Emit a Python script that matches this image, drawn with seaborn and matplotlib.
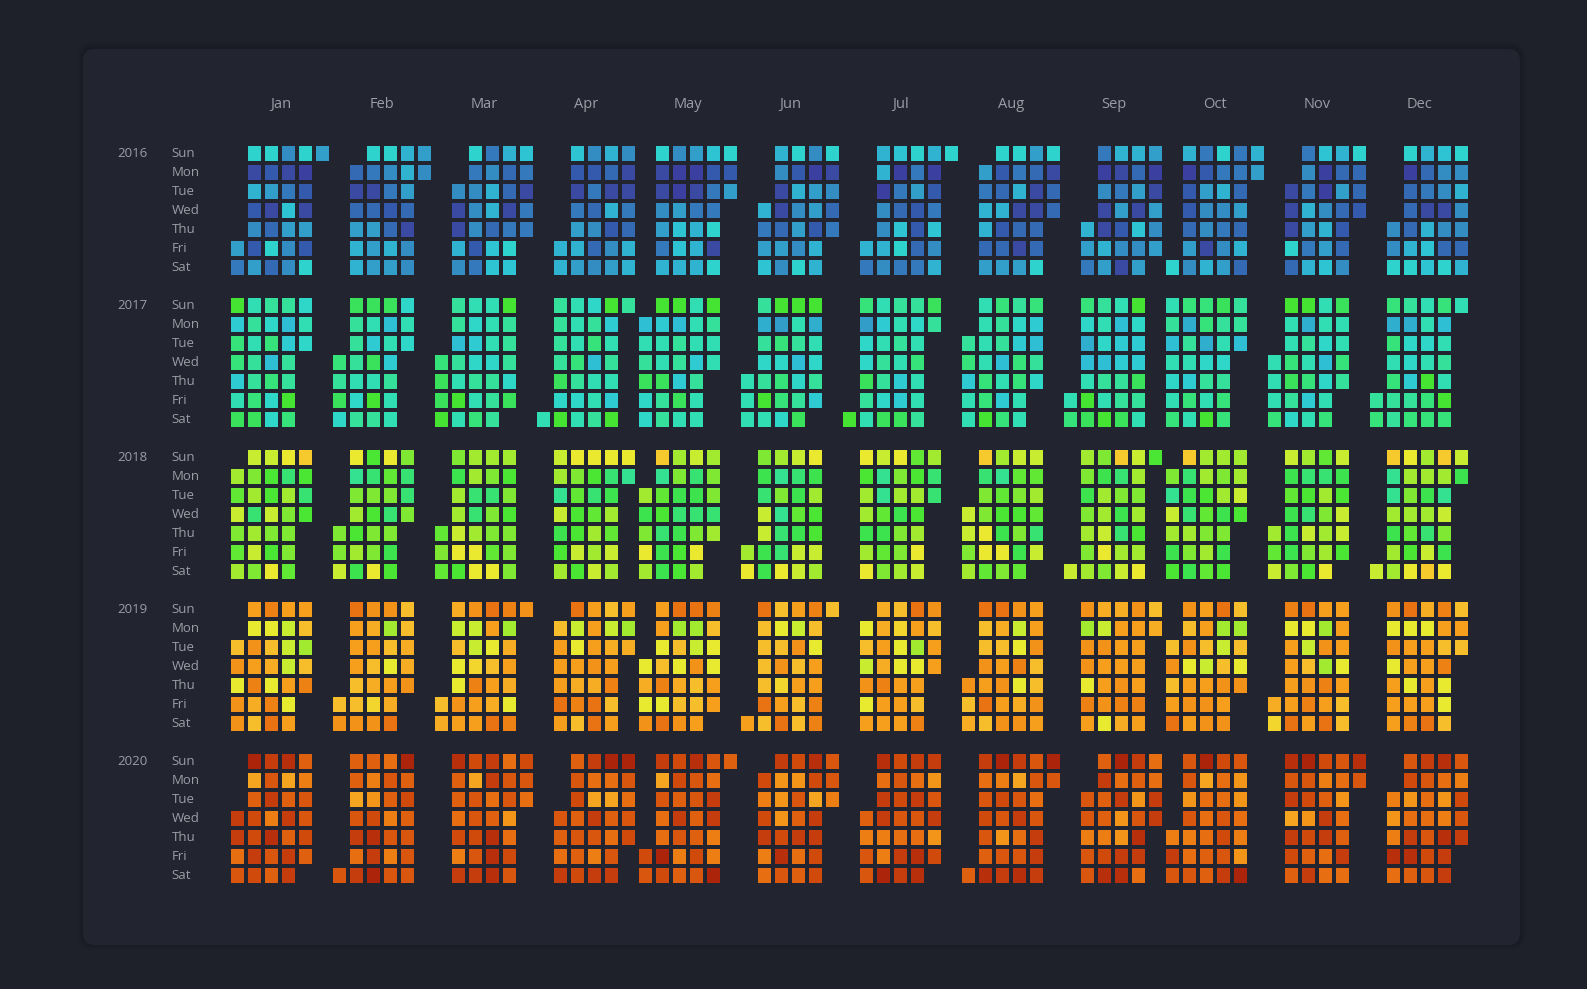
import numpy as np
import pandas as pd
import matplotlib
matplotlib.use("Agg")
import matplotlib.pyplot as plt
import seaborn as sns
from matplotlib.colors import LinearSegmentedColormap
from matplotlib.patches import FancyBboxPatch

plt.rcParams['font.family'] = ['Open Sans', 'DejaVu Sans']

years = [2016, 2017, 2018, 2019, 2020]
month_names = ['Jan', 'Feb', 'Mar', 'Apr', 'May', 'Jun', 'Jul', 'Aug', 'Sep', 'Oct', 'Nov', 'Dec']
day_names = ['Sun', 'Mon', 'Tue', 'Wed', 'Thu', 'Fri', 'Sat']

# daily level (0-9) inside each year's colour band, one string per month,
# spaces only split the week columns
levels_2016 = [
    "64 9172526 9261393 5148655 9021629 6",
    "313677 9413666 9542376 7763155 65",
    "51175 9455524 4577388 7331498 84144",
    "77 8214676 5243535 7317256 5114377",
    "9115647 5006887 6014777 8244919 926",
    "7468 7511365 9275659 5066277 91534",
    "74 7705575 8043894 9462234 7024857 9",
    "647736 9237236 9471316 6311339 9133",
    "764 4051176 7146251 7361856 601656",
    "9 7022365 4265517 9475456 4436373 76",
    "11193 4547647 8005768 7363235 9332",
    "559 9033379 7341788 8551539 9575537",
]
levels_2017 = [
    "9377358 5656678 6472744 6236697 454",
    "7684 8666546 8538596 8253655 454",
    "7889 6626595 5434657 5554666 966648",
    "5 6666849 5557645 4672556 9356539 6",
    "256844 9355866 9266385 5553655 9655",
    "555 6164695 9074774 9562468 915463",
    "9 7044865 5356648 6565338 6457556 86",
    "67355 5555779 7662537 6437755 73264",
    "57 7412598 6542659 5233668 9433865",
    "5625457 7165375 7714659 8654677 662",
    "5557 9557864 9165735 5542457 85576",
    "67 7175766 6144367 5545977 7256597 5",
]
levels_2018 = [
    "647546 7561675 7337538 8165554 9313",
    "557 8056362 3153558 8451523 5115",
    "454 5266783 6611688 6515548 6353555",
    "7607236 8543373 8314667 8126476 80",
    "62586 9043122 6521233 7121586 65516",
    "68 5217722 6050118 7124277 8263376",
    "8366268 7004245 8562556 4363687 611",
    "7756 9155884 6043285 7453524 746417",
    "7 6525656 5266785 9152167 7656368 3",
    "507623 9121652 6634564 6562523 6673",
    "647 7242225 6131753 4165668 723773",
    "7 9006266 8656438 6626179 9607528 72",
]
levels_2019 = [
    "47277 6276854 8245289 6111626 64048",
    "47 9666447 7564537 7042659 44557",
    "45 5142276 7113866 9624659 8056528 7",
    "466696 9126584 6667599 4156846 605",
    "2527 6624829 9042547 9017446 842266",
    "6 9444494 4247369 6174644 8426688 4",
    "241726 5565866 4322666 9602648 7466",
    "745 9447694 9546767 7128257 6674476",
    "7077286 5176672 5666785 7666686 45",
    "47469 7472676 6641677 9014767 40427",
    "53 8266669 9214786 6070869 6662644",
    "7272666 9266268 5266669 8648224 464",
]
levels_2020 = [
    "7735 9046676 7572854 8047477 425564",
    "5 4405737 4216879 3542525 9464555",
    "8443627 6055657 7734888 3551365 653",
    "5437 4564546 7307527 9304357 95356",
    "65 7053396 6647524 8554465 5377229 4",
    "626723 7111685 6154734 8607766 552",
    "4255 8377229 6565377 7375388 715716",
    "4 7356548 9265157 7057358 5535777 95",
    "55255 4744268 9371178 7415873 3377",
    "275 5515235 9033344 6335657 5113219",
    "8570764 9561647 6247733 5313473 85",
    "21283 5613784 7533565 8312877 52657",
]
levels = {2016: levels_2016, 2017: levels_2017, 2018: levels_2018,
          2019: levels_2019, 2020: levels_2020}

# value range of each year on the shared colour scale
band_low = [0.0, 0.16, 0.31, 0.455, 0.575]
band_high = [0.245, 0.375, 0.525, 0.645, 0.80]

palette = ['#3b40a0', '#3a4aa2', '#3458ac', '#3466b0', '#3374ba', '#3386c0', '#3296c6',
           '#30a8cc', '#2ebcd4', '#2ec8d4', '#2ed6cc', '#30dcb6', '#33e0a0', '#36e27c',
           '#38e25c', '#44e432', '#5ae834', '#78e832', '#98ea30', '#c4ec30', '#eaea30',
           '#f6cc2c', '#f6b428', '#f6a420', '#f29418', '#ee8014', '#e87012', '#e0620f',
           '#d8560e', '#d04a0c', '#c63e0c', '#ba320b', '#ac2409']
cmap = LinearSegmentedColormap.from_list('calendar', palette)

OUTER = '#1f212a'
CARD = '#22242f'
TEXT = '#9a9ca6'

# build the table of days
records = []
for yi, year in enumerate(years):
    for m in range(12):
        digits = levels[year][m].replace(' ', '')
        first_day = pd.Timestamp(year, m + 1, 1)
        assert len(digits) == first_day.days_in_month, (year, m + 1, len(digits))
        dates = pd.date_range(first_day, periods=len(digits), freq='D')
        step = (band_high[yi] - band_low[yi]) / 9
        for d, ch in zip(dates, digits):
            records.append({'year_idx': yi, 'date': d, 'month': m,
                            'value': band_low[yi] + int(ch) * step})
df = pd.DataFrame(records)
df['weekday'] = (df['date'].dt.dayofweek + 1) % 7
jan1 = pd.to_datetime(df['date'].dt.year.astype(str) + '-01-01')
df['week'] = (df['date'].dt.dayofyear - 1 + (jan1.dt.dayofweek + 1) % 7) // 7

# every month gets a slot wide enough for all years
first_week = df.groupby('month')['week'].min()
last_week = df.groupby('month')['week'].max()
slot_width = last_week - first_week + 1
slot_start = slot_width.cumsum() - slot_width

df['col'] = slot_start[df['month']].values + df['week'] - first_week[df['month']].values
df['row'] = df['year_idx'] * 8 + df['weekday']

n_rows = len(years) * 8 - 1
n_cols = int(slot_width.sum())
grid = np.full((n_rows, n_cols), np.nan)
grid[df['row'].values, df['col'].values] = df['value'].values

W, H = 1587, 989
fig = plt.figure(figsize=(W / 100, H / 100), dpi=100)
fig.patch.set_facecolor(OUTER)

# card with soft shadow
card_x, card_y, card_w, card_h = 83, H - 945, 1437, 896
for i in range(6, 0, -1):
    fig.patches.append(FancyBboxPatch(
        ((card_x - i) / 100, (card_y - i + 1) / 100), (card_w + 2 * i) / 100, (card_h + 2 * i) / 100,
        boxstyle='round,pad=0,rounding_size=%f' % ((12 + i) / 100),
        transform=fig.dpi_scale_trans, facecolor='#15161d', edgecolor='none', alpha=0.06, zorder=-2))
fig.patches.append(FancyBboxPatch(
    (card_x / 100, card_y / 100), card_w / 100, card_h / 100,
    boxstyle='round,pad=0,rounding_size=0.12', transform=fig.dpi_scale_trans,
    facecolor=CARD, edgecolor='none', zorder=-1))

left, top, pitch_x, pitch_y = 229.4, 143.6, 17.0, 19.0
ax = fig.add_axes([left / W, 1 - (top + n_rows * pitch_y) / H, n_cols * pitch_x / W, n_rows * pitch_y / H])
ax.set_zorder(2)
ax.set_facecolor('none')
sns.heatmap(grid, ax=ax, cmap=cmap, vmin=0, vmax=0.8, mask=np.isnan(grid), cbar=False,
            linewidths=1.5, linecolor=CARD, xticklabels=False, yticklabels=False)
ax.set_axis_off()

# month labels
for m, name in enumerate(month_names):
    cx = slot_start.iloc[m] + slot_width.iloc[m] / 2
    ax.text(cx, (104.3 - top) / pitch_y, name, ha='center', va='center',
            color=TEXT, fontsize=10.5, clip_on=False)

# year and weekday labels
for yi, year in enumerate(years):
    ax.text((117.7 - left) / pitch_x, yi * 8 + 0.5, str(year), ha='left', va='center',
            color=TEXT, fontsize=9.5, clip_on=False)
    for wd, dn in enumerate(day_names):
        ax.text((171.7 - left) / pitch_x, yi * 8 + wd + 0.5, dn, ha='left', va='center',
                color=TEXT, fontsize=9.5, clip_on=False)

fig.savefig('out.png', dpi=100, facecolor=fig.get_facecolor())
